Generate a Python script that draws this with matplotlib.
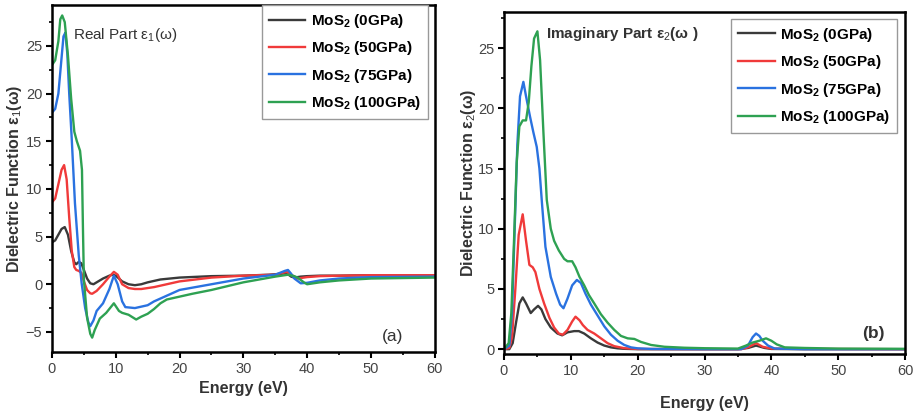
import matplotlib
matplotlib.use('Agg')
import matplotlib.pyplot as plt
from matplotlib.ticker import MultipleLocator

plt.rcParams['font.family'] = ['Liberation Sans', 'DejaVu Sans']
plt.rcParams['mathtext.fontset'] = 'custom'
plt.rcParams['mathtext.rm'] = 'Liberation Sans'
plt.rcParams['mathtext.it'] = 'Liberation Sans'
plt.rcParams['mathtext.bf'] = 'Liberation Sans:bold'

labels = [r'MoS$_\mathbf{2}$ (0GPa)', r'MoS$_\mathbf{2}$ (50GPa)',
          r'MoS$_\mathbf{2}$ (75GPa)', r'MoS$_\mathbf{2}$ (100GPa)']
colors = ['#3a3a3a', '#f03a3a', '#2a72e0', '#2ea152']

# real part eps1(w)
e1_black = [0, 0.5, 1, 1.5, 2, 2.5, 3, 3.5, 3.8, 4.2, 4.6, 5, 5.5, 6, 6.5, 7, 8, 9, 9.5, 10, 11, 12, 13, 14, 15,
            17, 20, 25, 30, 34, 36, 36.5, 37, 37.5, 38, 39, 40, 42, 45, 50, 60]
r_black = [4.4, 4.6, 5.2, 5.8, 6.0, 5.2, 3.5, 2.3, 2.1, 2.35, 2.2, 1.5, 0.6, 0.1, 0.0, 0.2, 0.6, 0.9, 1.0, 0.9,
           0.3, 0.0, -0.1, 0.0, 0.2, 0.5, 0.7, 0.85, 0.9, 1.0, 1.1, 1.15, 1.05, 0.8, 0.7, 0.8, 0.85, 0.9, 0.9,
           0.95, 0.95]

e1_red = [0, 0.5, 1, 1.5, 1.9, 2.3, 2.7, 3.1, 3.5, 3.8, 4.2, 4.6, 5, 5.5, 6, 6.3, 7, 8, 9, 9.7, 10.3, 11, 12, 13,
          14, 16, 18, 20, 25, 30, 35, 36.8, 37.5, 38.5, 40, 42, 45, 50, 60]
r_red = [8.6, 9.0, 10.5, 12.0, 12.5, 11.0, 7.0, 3.5, 1.8, 1.5, 1.4, 1.2, 0.3, -0.6, -0.95, -1.0, -0.7, 0.0, 0.8,
         1.3, 1.0, 0.0, -0.4, -0.5, -0.5, -0.3, 0.0, 0.3, 0.7, 0.9, 1.0, 1.3, 1.0, 0.6, 0.75, 0.85, 0.9, 0.95, 0.95]

e1_blue = [0, 0.5, 1, 1.4, 1.8, 2.1, 2.4, 2.7, 3.1, 3.6, 4.2, 4.65, 5.2, 5.7, 6.0, 6.5, 7, 8, 9, 9.7, 10.3, 11,
           11.5, 13, 15, 16, 18, 20, 25, 30, 35, 36.5, 37, 37.5, 38, 39, 40, 42, 45, 50, 60]
r_blue = [18.0, 18.4, 20.0, 23.0, 26.0, 26.4, 24.2, 20.0, 15.2, 8.5, 3.0, 0.1, -2.5, -4.0, -4.4, -3.8, -2.8, -2.0,
          -0.5, 0.9, 0.0, -1.8, -2.4, -2.5, -2.2, -1.8, -1.2, -0.6, 0.0, 0.6, 1.0, 1.4, 1.5, 1.1, 0.6, 0.1, 0.15,
          0.4, 0.6, 0.75, 0.8]

e1_green = [0, 0.5, 1, 1.3, 1.6, 2.0, 2.5, 3, 3.5, 3.9, 4.4, 4.7, 4.85, 5.0, 5.5, 6.0, 6.3, 6.7, 7.5, 8.5, 9.7,
            10.5, 11, 12, 13.2, 14, 15, 16, 17, 18, 20, 22, 25, 30, 35, 37, 38, 38.5, 39.5, 40, 42, 45, 50, 60]
r_green = [23.0, 23.5, 25.5, 27.8, 28.2, 27.5, 24.0, 19.5, 16.0, 15.0, 14.0, 12.0, 6.0, 0.5, -3.5, -5.2, -5.6,
           -4.8, -3.6, -3.0, -2.0, -2.8, -3.0, -3.2, -3.7, -3.4, -3.1, -2.6, -2.0, -1.6, -1.3, -1.0, -0.6, 0.2,
           0.8, 1.0, 0.85, 0.7, 0.2, 0.0, 0.2, 0.4, 0.6, 0.7]

# imaginary part eps2(w)
e2_black = [0, 0.8, 1.3, 1.8, 2.3, 2.8, 3.3, 4.0, 4.5, 5.1, 5.6, 6.2, 7, 8, 8.7, 9.5, 10.5, 11.2, 12, 13, 14, 15,
            16, 17, 18, 20, 30, 35, 36.5, 37.7, 39, 40, 45, 60]
i_black = [0, 0.0, 0.5, 2.2, 3.8, 4.3, 3.8, 3.0, 3.3, 3.6, 3.3, 2.5, 1.8, 1.3, 1.15, 1.4, 1.5, 1.5, 1.3, 0.9,
           0.55, 0.3, 0.15, 0.07, 0.03, 0.0, 0.0, 0.0, 0.1, 0.3, 0.1, 0.02, 0.0, 0.0]

e2_red = [0, 0.8, 1.2, 1.7, 2.2, 2.8, 3.3, 3.8, 4.3, 4.7, 5.3, 6, 6.8, 7.5, 8.2, 8.8, 9.5, 10.2, 10.7, 11.3, 11.8,
          12.5, 13.5, 14.5, 15.5, 16.5, 18, 20, 30, 35.5, 36.5, 37.7, 38.7, 40, 45, 60]
i_red = [0, 0.1, 1.0, 5.0, 9.5, 11.2, 9.0, 7.0, 6.8, 6.4, 5.0, 3.8, 2.6, 1.8, 1.3, 1.2, 1.6, 2.3, 2.7, 2.4, 2.0,
         1.6, 1.3, 0.9, 0.5, 0.25, 0.08, 0.02, 0.0, 0.0, 0.15, 0.5, 0.2, 0.05, 0.02, 0.0]

e2_blue = [0, 0.8, 1.2, 1.6, 2.0, 2.4, 2.9, 3.3, 3.9, 4.4, 4.9, 5.3, 5.7, 6.2, 7.0, 7.8, 8.4, 8.9, 9.5, 10.2,
           10.9, 11.5, 12.2, 13, 14, 15, 16, 17, 18, 19, 20, 22, 30, 35.5, 36.5, 37.2, 37.7, 38.2, 38.7, 39.5,
           40.5, 45, 60]
i_blue = [0, 0.3, 3.0, 10.0, 17.0, 21.0, 22.2, 21.0, 19.3, 18.0, 16.8, 15.0, 12.0, 8.5, 6.0, 4.6, 3.7, 3.4, 4.2,
          5.3, 5.75, 5.5, 4.6, 3.7, 2.8, 1.9, 1.2, 0.7, 0.35, 0.15, 0.07, 0.02, 0.0, 0.0, 0.3, 1.0, 1.3, 1.1,
          0.7, 0.3, 0.05, 0.0, 0.0]

e2_green = [0, 0.7, 1.1, 1.5, 1.9, 2.3, 2.8, 3.3, 3.7, 4.1, 4.5, 5.0, 5.4, 5.9, 6.4, 7.0, 7.5, 8.2, 9.0, 9.5,
            10.2, 10.7, 11.3, 12, 12.7, 13.5, 14.5, 15.5, 16.5, 17.5, 18.5, 19.5, 20.5, 22, 24, 27, 30, 35,
            36.2, 37.2, 38.2, 39.2, 40, 40.8, 42, 45, 50, 60]
i_green = [0, 0.5, 3.0, 9.0, 15.5, 18.5, 19.0, 19.0, 20.5, 23.5, 25.8, 26.4, 24.0, 18.0, 12.4, 10.0, 9.0, 8.2,
           7.5, 7.3, 7.3, 6.8, 6.0, 5.3, 4.5, 3.8, 2.9, 2.2, 1.6, 1.1, 0.9, 0.85, 0.6, 0.35, 0.2, 0.12, 0.08,
           0.05, 0.3, 0.55, 0.7, 0.9, 0.7, 0.4, 0.15, 0.1, 0.05, 0.03]

real = [(e1_black, r_black), (e1_red, r_red), (e1_blue, r_blue), (e1_green, r_green)]
imag = [(e2_black, i_black), (e2_red, i_red), (e2_blue, i_blue), (e2_green, i_green)]

fig = plt.figure(figsize=(9.17, 4.15), dpi=100)
ax1 = fig.add_axes([0.0567, 0.152, 0.4173, 0.836])
ax2 = fig.add_axes([0.5496, 0.147, 0.4374, 0.824])

for (x, y), c, lab in zip(real, colors, labels):
    ax1.plot(x, y, color=c, lw=1.7, label=lab)
for (x, y), c, lab in zip(imag, colors, labels):
    ax2.plot(x, y, color=c, lw=1.7, label=lab)

ax1.set_xlim(0, 60)
ax1.set_ylim(-7.1, 29.3)
ax2.set_xlim(0, 60)
ax2.set_ylim(-0.4, 28)

for ax, anchor in ((ax1, (0.982, 1.0)), (ax2, (0.98, 0.98))):
    ax.xaxis.set_major_locator(MultipleLocator(10))
    ax.xaxis.set_minor_locator(MultipleLocator(5))
    ax.yaxis.set_major_locator(MultipleLocator(5))
    ax.yaxis.set_minor_locator(MultipleLocator(2.5))
    ax.tick_params(which='major', direction='out', length=4, width=1.5, labelsize=10.5,
                   labelcolor='#444444', pad=3)
    ax.tick_params(which='minor', direction='out', length=2.5, width=1.2)
    for s in ax.spines.values():
        s.set_linewidth(1.8)
    leg = ax.legend(loc='upper right', bbox_to_anchor=anchor, prop={'weight': 'bold', 'size': 11},
                    handlelength=2.4, labelspacing=0.62, borderpad=0.45, handletextpad=0.35,
                    borderaxespad=0, fancybox=False, framealpha=1)
    leg.get_frame().set_edgecolor('#999999')
    leg.get_frame().set_linewidth(1.0)

ax1.set_xlabel('Energy (eV)', fontsize=11.5, fontweight='bold', color='#333333', labelpad=4)
ax2.set_xlabel('Energy (eV)', fontsize=11.5, fontweight='bold', color='#333333', labelpad=13)
ax1.set_ylabel('Dielectric Function ε$_1$(ω)', fontsize=11.5, fontweight='bold', color='#333333', labelpad=1)
ax2.set_ylabel('Dielectric Function ε$_2$(ω)', fontsize=11.5, fontweight='bold', color='#333333', labelpad=0)

ax1.text(0.055, 0.913, 'Real Part ε$_1$(ω)', transform=ax1.transAxes, fontsize=11, color='#333333',
         va='center')
ax2.text(0.105, 0.935, 'Imaginary Part ε$_2$(ω )', transform=ax2.transAxes, fontsize=11,
         fontweight='bold', color='#333333', va='center')
ax1.text(0.89, 0.045, '(a)', transform=ax1.transAxes, fontsize=12.5, color='#333333', ha='center', va='center')
ax2.text(0.92, 0.06, '(b)', transform=ax2.transAxes, fontsize=12.5, fontweight='bold', color='#333333',
         ha='center', va='center')

fig.savefig('out.png', dpi=100)
